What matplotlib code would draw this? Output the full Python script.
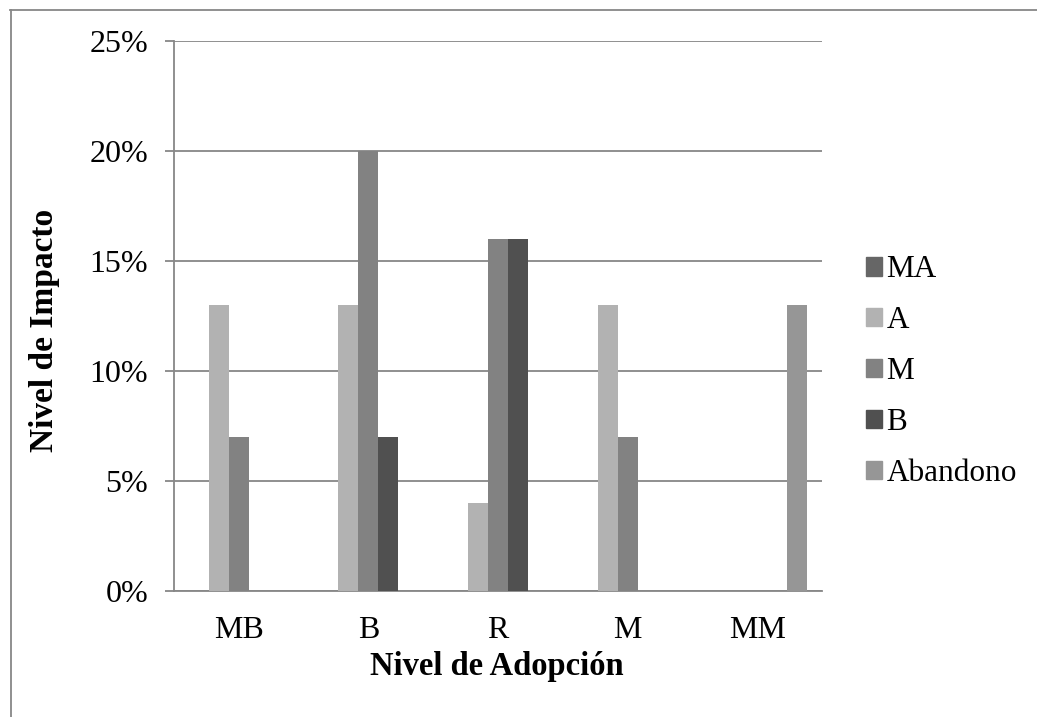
import matplotlib.pyplot as plt
import numpy as np
from matplotlib.lines import Line2D
from matplotlib.ticker import FuncFormatter

plt.rcParams['font.family'] = ['Liberation Serif', 'DejaVu Serif']

categories = ["MB", "B", "R", "M", "MM"]
series_names = ["MA", "A", "M", "B", "Abandono"]
values = {
    "MA": [0, 0, 0, 0, 0],
    "A": [13, 13, 4, 13, 0],
    "M": [7, 20, 16, 7, 0],
    "B": [0, 7, 16, 0, 0],
    "Abandono": [0, 0, 0, 0, 13],
}
colors = ["#666666", "#b2b2b2", "#828282", "#505050", "#969696"]
grid_color = "#878787"

W, H = 1037, 717
fig = plt.figure(figsize=(W / 100, H / 100), dpi=100)
ax = fig.add_axes([174 / W, 1 - 591 / H, (822 - 174) / W, (591 - 41) / H])

x = np.arange(len(categories))
bw = 1 / 6.5
for i, name in enumerate(series_names):
    vals = np.array(values[name], dtype=float) / 100
    ax.bar(x + (i - 2) * bw, vals, width=bw, color=colors[i], label=name,
           zorder=3, linewidth=0)

ax.set_xlim(-0.5, len(categories) - 0.5)
ax.set_ylim(0, 0.25)
ax.set_yticks(np.arange(0, 0.26, 0.05))
ax.yaxis.set_major_formatter(FuncFormatter(lambda v, p: f"{v * 100:.0f}%"))
ax.set_xticks(x)
ax.set_xticklabels(categories)
ax.yaxis.grid(True, color=grid_color, linewidth=1.3, zorder=0)
ax.set_axisbelow(True)
for s in ["top", "right"]:
    ax.spines[s].set_visible(False)
for s in ["left", "bottom"]:
    ax.spines[s].set_color(grid_color)
    ax.spines[s].set_linewidth(1.3)
ax.tick_params(axis="y", length=6.5, width=1.3, color=grid_color, labelsize=23, pad=12)
ax.tick_params(axis="x", length=0, labelsize=23, pad=18)

fig.text(497 / W, 1 - 667 / H, "Nivel de Adopción", ha="center", va="center",
         fontsize=23.5, fontweight="bold")
fig.text(45 / W, 1 - 330 / H, "Nivel de Impacto", ha="center", va="center",
         rotation=90, fontsize=24, fontweight="bold")

handles = [plt.Rectangle((0, 0), 1, 1, color=c) for c in colors]
fig.legend(handles, series_names, loc="upper left", bbox_to_anchor=(853 / W, 1 - 243 / H),
           frameon=False, fontsize=22.5, handlelength=0.52, handleheight=0.52,
           handletextpad=0.15, labelspacing=0.7, borderaxespad=0)

# outer chart-area border (top and left edges visible)
fig.add_artist(Line2D([10 / W, 1], [1 - 10 / H, 1 - 10 / H], color=grid_color, linewidth=1.3))
fig.add_artist(Line2D([10.5 / W, 10.5 / W], [0, 1 - 10 / H], color=grid_color, linewidth=1.3))

fig.savefig("out.png", dpi=100)
